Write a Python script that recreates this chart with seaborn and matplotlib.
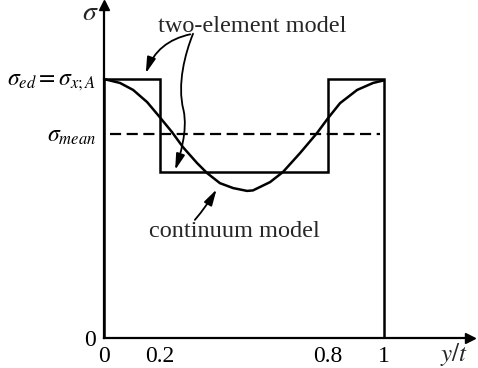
import numpy as np
import pandas as pd
import seaborn as sns
import matplotlib.pyplot as plt
from matplotlib.path import Path
from matplotlib.patches import FancyArrowPatch

# continuum model
pos = [0.0, 0.057, 0.104, 0.154, 0.196, 0.243, 0.282, 0.332, 0.368, 0.414,
       0.461, 0.511, 0.532, 0.593, 0.639, 0.700, 0.761, 0.800, 0.843, 0.904,
       0.961, 1.0]
stress = [1.0, 0.985, 0.958, 0.911, 0.857, 0.795, 0.737, 0.676, 0.637, 0.598,
          0.579, 0.568, 0.570, 0.602, 0.641, 0.714, 0.792, 0.849, 0.907, 0.958,
          0.985, 0.995]

# two-element model
edges = [0.0, 0.2, 0.8, 1.0]
levels = [1.0, 0.641, 1.0]
mean_level = 0.788

xtick_pos = [0, 0.2, 0.8, 1]
xtick_lab = ['0', '0.2', '0.8', '1']
ytick_pos = [0, mean_level, 1.0]
ytick_lab = ['0', r'$\sigma_{mean}$', r'$\sigma_{ed}=\sigma_{x;A}$']

sns.set_style('white')
plt.rcParams['font.family'] = ['Liberation Serif', 'DejaVu Serif']
plt.rcParams['mathtext.fontset'] = 'stix'

df = pd.DataFrame({'y/t': pos, 'sigma': stress})

fig = plt.figure(figsize=(4.78, 3.68), dpi=100)
ax = fig.add_axes([104 / 478, 30 / 368, 366 / 478, 333 / 368])
ax.set_xlim(0, 1.307)
ax.set_ylim(0, 1.286)

sns.lineplot(data=df, x='y/t', y='sigma', sort=False, color='black',
             lw=1.8, ax=ax, clip_on=False)
ax.stairs(levels, edges, baseline=0, color='black', lw=1.8, clip_on=False)
ax.hlines(mean_level, 0.02, 0.985, color='black', lw=1.6,
          linestyles=(0, (5, 2.5)))

for s in ['top', 'right']:
    ax.spines[s].set_visible(False)
for s in ['left', 'bottom']:
    ax.spines[s].set_color('black')
    ax.spines[s].set_linewidth(1.6)
ax.plot(1, 0, '>k', ms=7, transform=ax.transAxes, clip_on=False)
ax.plot(0, 1, '^k', ms=7, transform=ax.transAxes, clip_on=False)

ax.set_xticks(xtick_pos, xtick_lab)
ax.set_yticks(ytick_pos, ytick_lab)
ax.tick_params(axis='x', direction='in', length=12, width=1.5, pad=6,
               labelsize=17, colors='black')
ax.tick_params(axis='y', length=0, pad=6, labelsize=17, colors='black')
ax.set_xlabel('')
ax.set_ylabel('')

ax.text(-0.05, 1.255, r'$\sigma$', fontsize=20, ha='center', va='center')
ax.text(1.30, -0.065, r'$y/t$', fontsize=18, ha='right', va='center',
        clip_on=False)

ax.text(0.529, 1.181, 'two-element model', fontsize=17.5, ha='center',
        va='baseline')
ax.text(0.466, 0.390, 'continuum model', fontsize=17.5, ha='center',
        va='baseline')

arrow_kw = dict(arrowstyle='-|>,head_length=0.8,head_width=0.22',
                color='black', lw=1.3, mutation_scale=12)
ax.annotate('', xy=(0.146, 1.012), xytext=(0.318, 1.175),
            arrowprops=dict(connectionstyle='arc3,rad=0.3', **arrow_kw))
wavy = Path([(0.318, 1.175), (0.29, 1.10), (0.26, 0.98), (0.284, 0.88),
             (0.30, 0.80), (0.27, 0.70), (0.254, 0.649)],
            [Path.MOVETO, Path.CURVE4, Path.CURVE4, Path.CURVE4,
             Path.CURVE4, Path.CURVE4, Path.CURVE4])
ax.add_patch(FancyArrowPatch(path=wavy, transform=ax.transData, **arrow_kw))
ax.annotate('', xy=(0.407, 0.583), xytext=(0.318, 0.448),
            arrowprops=dict(connectionstyle='arc3,rad=0.05', **arrow_kw))

fig.savefig('out.png', dpi=100)
